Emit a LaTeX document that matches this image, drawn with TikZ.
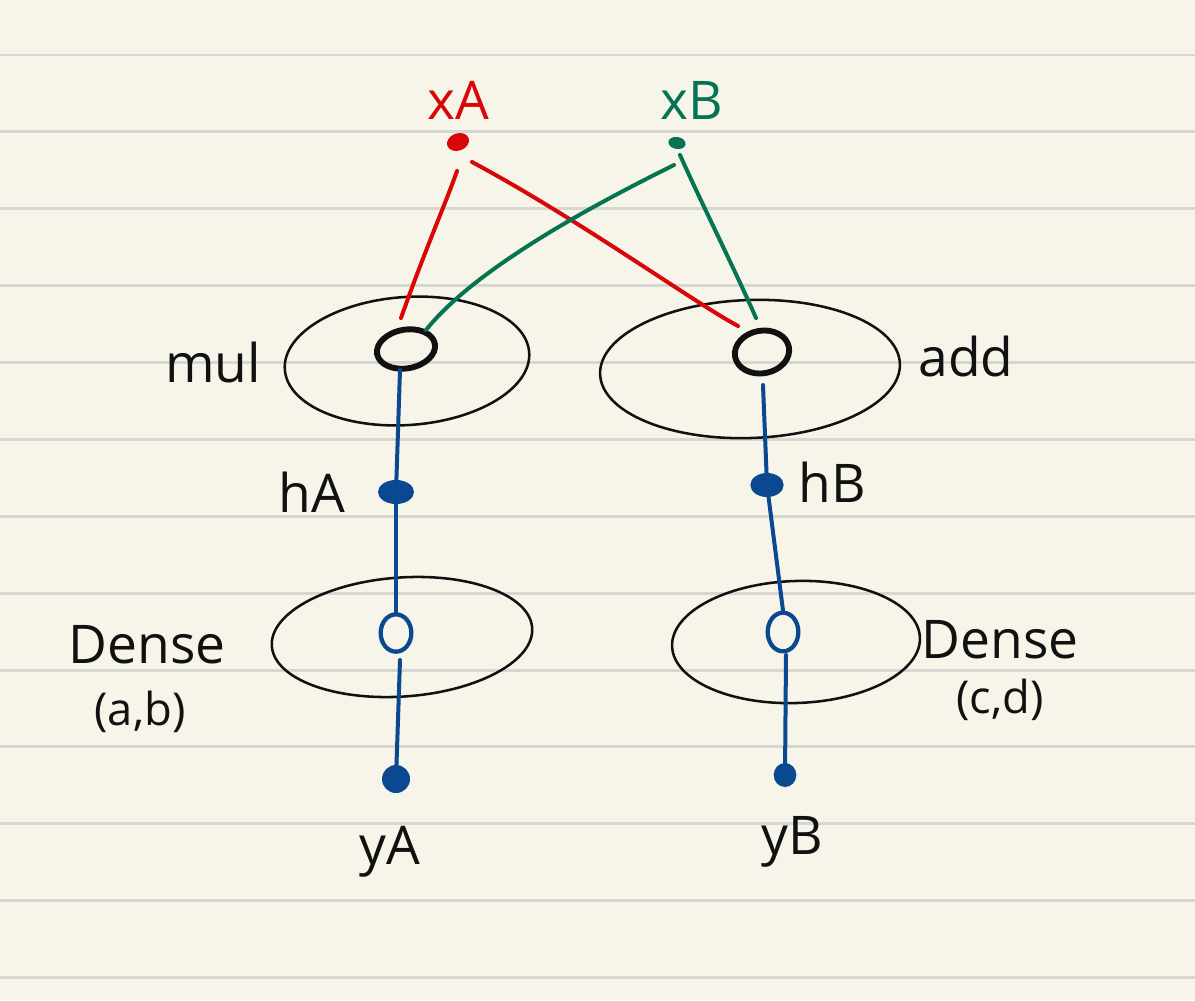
\documentclass[tikz,border=0pt]{standalone}
\usepackage{fontspec}
\setmainfont{Open Sans}
\usetikzlibrary{shapes.geometric}
\definecolor{paper}{HTML}{F7F5E9}
\definecolor{ruleline}{HTML}{D6D6D3}
\definecolor{penred}{HTML}{D80808}
\definecolor{pengreen}{HTML}{067453}
\definecolor{penblue}{HTML}{0B4892}
\definecolor{ink}{HTML}{111111}
\begin{document}
\begin{tikzpicture}[x=0.75pt,y=-0.75pt,
  bigell/.style={ellipse, draw=ink, line width=1.9pt, inner sep=0pt},
  opendot/.style={ellipse, line width=4.4pt, inner sep=0pt},
  filldot/.style={ellipse, inner sep=0pt},
  lbl/.style={inner sep=0pt, text=ink, font=\fontsize{40}{44}\selectfont},
  sublbl/.style={inner sep=0pt, text=ink, font=\fontsize{34}{38}\selectfont},
  redpen/.style={draw=penred, line width=3pt, line cap=round},
  greenpen/.style={draw=pengreen, line width=3pt, line cap=round},
  bluepen/.style={draw=penblue, line width=3pt, line cap=round}]
% paper
\fill[paper] (0,0) rectangle (1195,1000);
\useasboundingbox (0,0) rectangle (1195,1000);
\foreach \k in {0,...,12} {
  \draw[ruleline, line width=2.2pt] (0,{55+76.88*\k}) -- (1195,{55+76.88*\k});
}
% big ellipses
\node[bigell, minimum width=183.75pt, minimum height=96pt, rotate=4] (mulE) at (407,361) {};
\node[bigell, minimum width=225pt, minimum height=103.5pt, rotate=2] (addE) at (750,369) {};
\node[bigell, minimum width=195.75pt, minimum height=89.25pt, rotate=4] (dAE) at (402,637) {};
\node[bigell, minimum width=186pt, minimum height=91.5pt, rotate=2] (dBE) at (796,642) {};
% inner circles
\node[opendot, draw=ink, minimum width=44pt, minimum height=29pt, rotate=10] (mulc) at (406,349) {};
\node[opendot, draw=ink, minimum width=41pt, minimum height=32pt, rotate=10] (addc) at (762,352) {};
\node[opendot, draw=penblue, line width=3.2pt, minimum width=23pt, minimum height=28pt] (dAc) at (396,633) {};
\node[opendot, draw=penblue, line width=3.2pt, minimum width=23pt, minimum height=29pt] (dBc) at (783,632) {};
% dots
\node[filldot, fill=penred, minimum width=17pt, minimum height=13pt, rotate=20] (xAd) at (458,142) {};
\node[filldot, fill=pengreen, minimum width=13pt, minimum height=9pt, rotate=-10] (xBd) at (677,143) {};
\node[filldot, fill=penblue, minimum width=27pt, minimum height=18pt] (hAd) at (396,492) {};
\node[filldot, fill=penblue, minimum width=25pt, minimum height=18pt] (hBd) at (767,485) {};
\node[filldot, fill=penblue, minimum width=21pt, minimum height=21pt] (yAd) at (396,779) {};
\node[filldot, fill=penblue, minimum width=17pt, minimum height=18pt] (yBd) at (785,775) {};
% red connectors from xA
\draw[redpen] ([xshift=-0.75pt,yshift=-21.75pt]xAd.center) .. controls (445,205) and (425,250) .. ([xshift=-3.75pt,yshift=23.25pt]mulc.center);
\draw[redpen] ([xshift=10.5pt,yshift=-15pt]xAd.center) .. controls (580,220) and (690,300) .. ([xshift=-18pt,yshift=19.5pt]addc.center);
% green connectors from xB
\draw[greenpen] ([xshift=-2.25pt,yshift=-16.5pt]xBd.center) .. controls (620,192) and (480,262) .. ([xshift=15pt,yshift=14.25pt]mulc.center);
\draw[greenpen] ([xshift=2.25pt,yshift=-9pt]xBd.center) .. controls (700,200) and (735,270) .. ([xshift=-4.5pt,yshift=25.5pt]addc.center);
% blue connectors
\draw[bluepen] ([xshift=-4.5pt,yshift=-15.75pt]mulc.center) -- (hAd.center);
\draw[bluepen] (hAd.center) -- (dAc.north);
\draw[bluepen] ([xshift=3pt,yshift=-20.25pt]dAc.center) -- (yAd.center);
\draw[bluepen] ([xshift=0.75pt,yshift=-24.75pt]addc.center) -- (hBd.center);
\draw[bluepen] (hBd.center) -- (dBc.north);
\draw[bluepen] ([xshift=2.25pt,yshift=-17.25pt]dBc.center) -- (yBd.center);
% labels
\node[lbl, text=penred] (xAl) at (458,100) {xA};
\node[lbl, text=pengreen] (xBl) at (692,100) {xB};
\node[lbl] (mull) at (213,362) {mul};
\node[lbl] (addl) at (966,356) {add};
\node[lbl] (hAl) at (312,492) {hA};
\node[lbl] (hBl) at (832,482) {hB};
\node[lbl] (dAl) at (147,645) {Dense};
\node[sublbl] (dAp) at (140,712) {(a,b)};
\node[lbl] (dBl) at (1000,640) {Dense};
\node[sublbl] (dBp) at (1000,700) {(c,d)};
\node[lbl] (yAl) at (390,852) {yA};
\node[lbl] (yBl) at (792,842) {yB};
\end{tikzpicture}
\end{document}
